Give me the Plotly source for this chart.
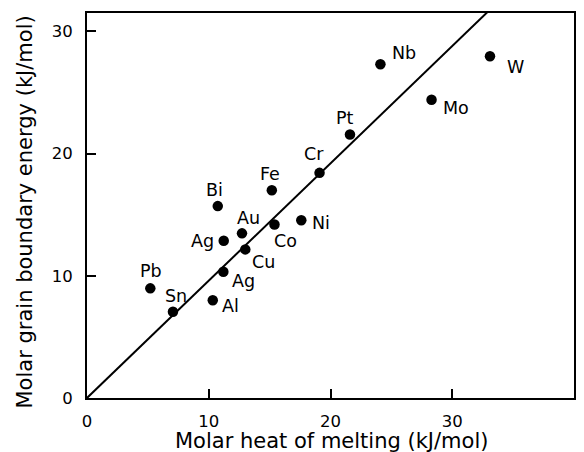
import plotly.graph_objects as go

elements = ["Pb", "Sn", "Al", "Ag", "Cu", "Ag", "Au", "Co", "Bi", "Fe", "Ni", "Cr", "Pt", "Nb", "Mo", "W"]
heat_of_melting = [5.2, 7.06, 10.33, 11.2, 13.0, 11.23, 12.73, 15.4, 10.74, 15.18, 17.6, 19.1, 21.6, 24.1, 28.3, 33.1]
grain_boundary_energy = [8.97, 7.06, 8.0, 10.33, 12.16, 12.86, 13.47, 14.2, 15.7, 17.0, 14.55, 18.42, 21.56, 27.3, 24.4, 27.96]
fit_slope = 0.96
fit_x = [0, 40]
x_title = "Molar heat of melting (kJ/mol)"
y_title = "Molar grain boundary energy (kJ/mol)"

# label pixel offsets (dx, dy) relative to each point
label_dx = [1, 3, 18, 20, 18, -21, 7, 11, -3, -2, 20, -6, -5, 24, 24, 26]
label_dy = [-17, -16, 6, 9, 13, 0, -15, 17, -16, -16, 3, -19, -16, -11, 8, 11]

font_family = "DejaVu Sans, Verdana, sans-serif"

fig = go.Figure()
fig.add_trace(go.Scatter(
    x=fit_x, y=[fit_slope * v for v in fit_x], mode="lines",
    line=dict(color="black", width=2), showlegend=False, hoverinfo="skip"))
fig.add_trace(go.Scatter(
    x=heat_of_melting, y=grain_boundary_energy, mode="markers",
    marker=dict(color="black", size=10.5), showlegend=False))

for name, xv, yv, dx, dy in zip(elements, heat_of_melting, grain_boundary_energy, label_dx, label_dy):
    fig.add_annotation(x=xv, y=yv, text=name, showarrow=False,
                       xshift=dx, yshift=-dy,
                       font=dict(family=font_family, size=17.5, color="black"))

# axis titles
fig.add_annotation(xref="paper", yref="paper", x=0.5, y=0, text=x_title,
                   showarrow=False, xanchor="center", yanchor="middle",
                   xshift=1, yshift=-43,
                   font=dict(family=font_family, size=21, color="black"))
fig.add_annotation(xref="paper", yref="paper", x=0, y=0.5, text=y_title,
                   showarrow=False, xanchor="center", yanchor="middle",
                   textangle=-90, xshift=-63, yshift=-7,
                   font=dict(family=font_family, size=21, color="black"))

axis_common = dict(
    showline=True, linewidth=2, linecolor="black", mirror=True,
    ticks="inside", ticklen=9, tickwidth=2, tickcolor="black",
    showgrid=False, zeroline=False,
    tickfont=dict(family=font_family, size=16.5, color="black"),
)

fig.update_layout(
    width=584, height=452,
    margin=dict(l=87, r=8, t=13, b=54),
    paper_bgcolor="white", plot_bgcolor="white",
    xaxis=dict(range=[0, 40], tickvals=[0, 10, 20, 30], ticklabelstandoff=7,
               **axis_common),
    yaxis=dict(range=[0, 31.5], tickvals=[0, 10, 20, 30], ticklabelstandoff=9,
               **axis_common),
)

fig.write_html("out.html")
